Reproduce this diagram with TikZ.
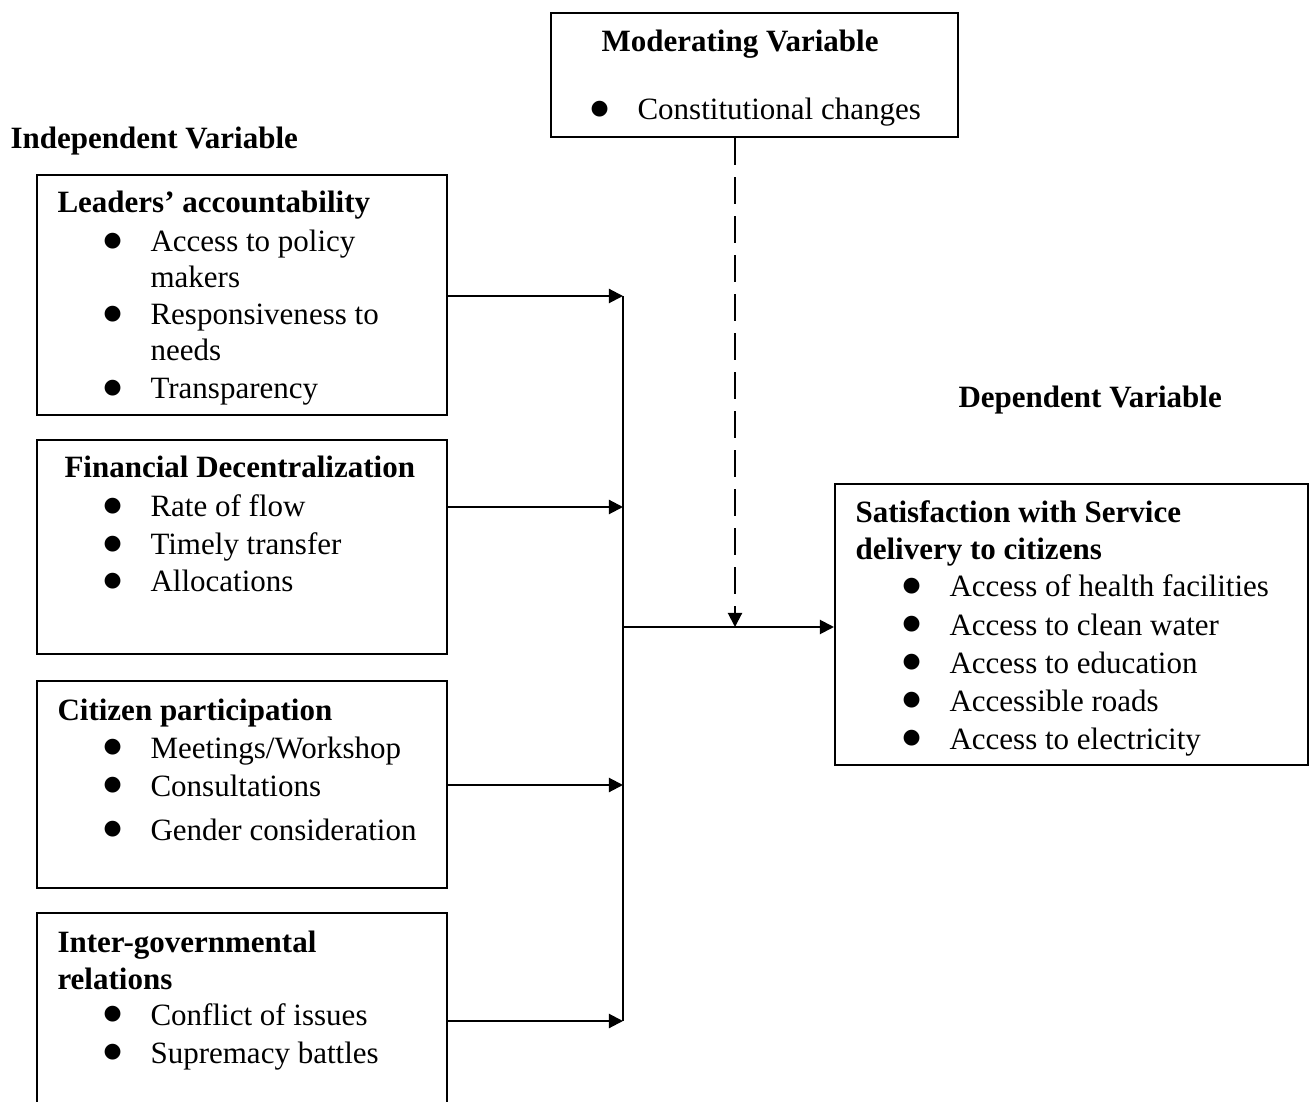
\documentclass[tikz,border=0pt,12pt]{standalone}
\usepackage{fontspec}
\setmainfont{Liberation Serif}
\newfontfamily\dotfont{DejaVu Sans}
\usetikzlibrary{arrows.meta,fit,positioning}
\newcommand{\bigdot}{\raisebox{2.3pt}{\dotfont\fontsize{8pt}{9pt}\selectfont ●}}

\begin{document}
\begin{tikzpicture}[x=0.387pt, y=-0.387pt, >={Triangle[length=5.5pt,width=5.5pt]},
    box/.style={draw, line width=0.8pt, inner sep=0pt},
    head/.style={font=\bfseries, anchor=base west, inner sep=0pt},
    item/.style={anchor=base west, inner sep=0pt},
    link/.style={line width=0.8pt}]
    \useasboundingbox (0,0) rectangle (1314,1102);

    % boxes
    \node[box, fit={(551,13) (958,137)}] (mod) {};
    \node[box, fit={(37,175) (447,415)}] (lead) {};
    \node[box, fit={(37,440) (447,654)}] (fin) {};
    \node[box, fit={(37,681) (447,888)}] (cit) {};
    \node[box, fit={(37,913) (447,1130)}] (igr) {};
    \node[box, fit={(835,484) (1308,765)}] (dep) {};

    % headings
    \node[head] (modT) at (601,52) {Moderating Variable};
    \node[head] (indT) at (10,149) {Independent Variable};
    \node[head] (depT) at (958,408) {Dependent Variable};

    % moderating variable
    \node[item] (modB) at (590,120) {\bigdot};
    \node[item] (mod1) at (637,120) {Constitutional changes};

    % leaders' accountability
    \node[head] (leadT) at (57,213) {Leaders’ accountability};
    \node[item] (leadB1) at (103,252) {\bigdot};
    \node[item] (lead1) at (150,252) {Access to policy};
    \node[item] (lead1b) at (150,288) {makers};
    \node[item] (leadB2) at (103,325) {\bigdot};
    \node[item] (lead2) at (150,325) {Responsiveness to};
    \node[item] (lead2b) at (150,361) {needs};
    \node[item] (leadB3) at (103,399) {\bigdot};
    \node[item] (lead3) at (150,399) {Transparency};

    % financial decentralization
    \node[head] (finT) at (64,478) {Financial Decentralization};
    \node[item] (finB1) at (103,517) {\bigdot};
    \node[item] (fin1) at (150,517) {Rate of flow};
    \node[item] (finB2) at (103,555) {\bigdot};
    \node[item] (fin2) at (150,555) {Timely transfer};
    \node[item] (finB3) at (103,592) {\bigdot};
    \node[item] (fin3) at (150,592) {Allocations};

    % citizen participation
    \node[head] (citT) at (57,720) {Citizen participation};
    \node[item] (citB1) at (103,758) {\bigdot};
    \node[item] (cit1) at (150,758) {Meetings/Workshop};
    \node[item] (citB2) at (103,796) {\bigdot};
    \node[item] (cit2) at (150,796) {Consultations};
    \node[item] (citB3) at (103,840) {\bigdot};
    \node[item] (cit3) at (150,840) {Gender consideration};

    % inter-governmental relations
    \node[head] (igrT) at (57,952) {Inter-governmental};
    \node[head] (igrT2) at (57,989) {relations};
    \node[item] (igrB1) at (103,1025) {\bigdot};
    \node[item] (igr1) at (150,1025) {Conflict of issues};
    \node[item] (igrB2) at (103,1063) {\bigdot};
    \node[item] (igr2) at (150,1063) {Supremacy battles};

    % dependent variable
    \node[head] (depT1) at (855,523) {Satisfaction with Service};
    \node[head] (depT2) at (855,560) {delivery to citizens};
    \node[item] (depB1) at (902,597) {\bigdot};
    \node[item] (dep1) at (949,597) {Access of health facilities};
    \node[item] (depB2) at (902,635) {\bigdot};
    \node[item] (dep2) at (949,635) {Access to clean water};
    \node[item] (depB3) at (902,673) {\bigdot};
    \node[item] (dep3) at (949,673) {Access to education};
    \node[item] (depB4) at (902,711) {\bigdot};
    \node[item] (dep4) at (949,711) {Accessible roads};
    \node[item] (depB5) at (902,749) {\bigdot};
    \node[item] (dep5) at (949,749) {Access to electricity};

    % bus points
    \coordinate (b1) at (623,296);
    \coordinate (b2) at (623,507);
    \coordinate (b3) at (623,785);
    \coordinate (b4) at (623,1021);
    \coordinate (mid) at (623,627);
    \coordinate (modin) at (735,627);

    \draw[link, ->] (b1 -| lead.east) -- (b1);
    \draw[link, ->] (b2 -| fin.east) -- (b2);
    \draw[link, ->] (b3 -| cit.east) -- (b3);
    \draw[link, ->] (b4 -| igr.east) -- (b4);
    \draw[link] (b1) -- (b4);
    \draw[link, ->] (mid) -- (mid -| dep.west);
    \draw[link, ->, dash pattern=on 10.5pt off 4.6pt] (modin |- mod.south) -- (modin);
\end{tikzpicture}
\end{document}
